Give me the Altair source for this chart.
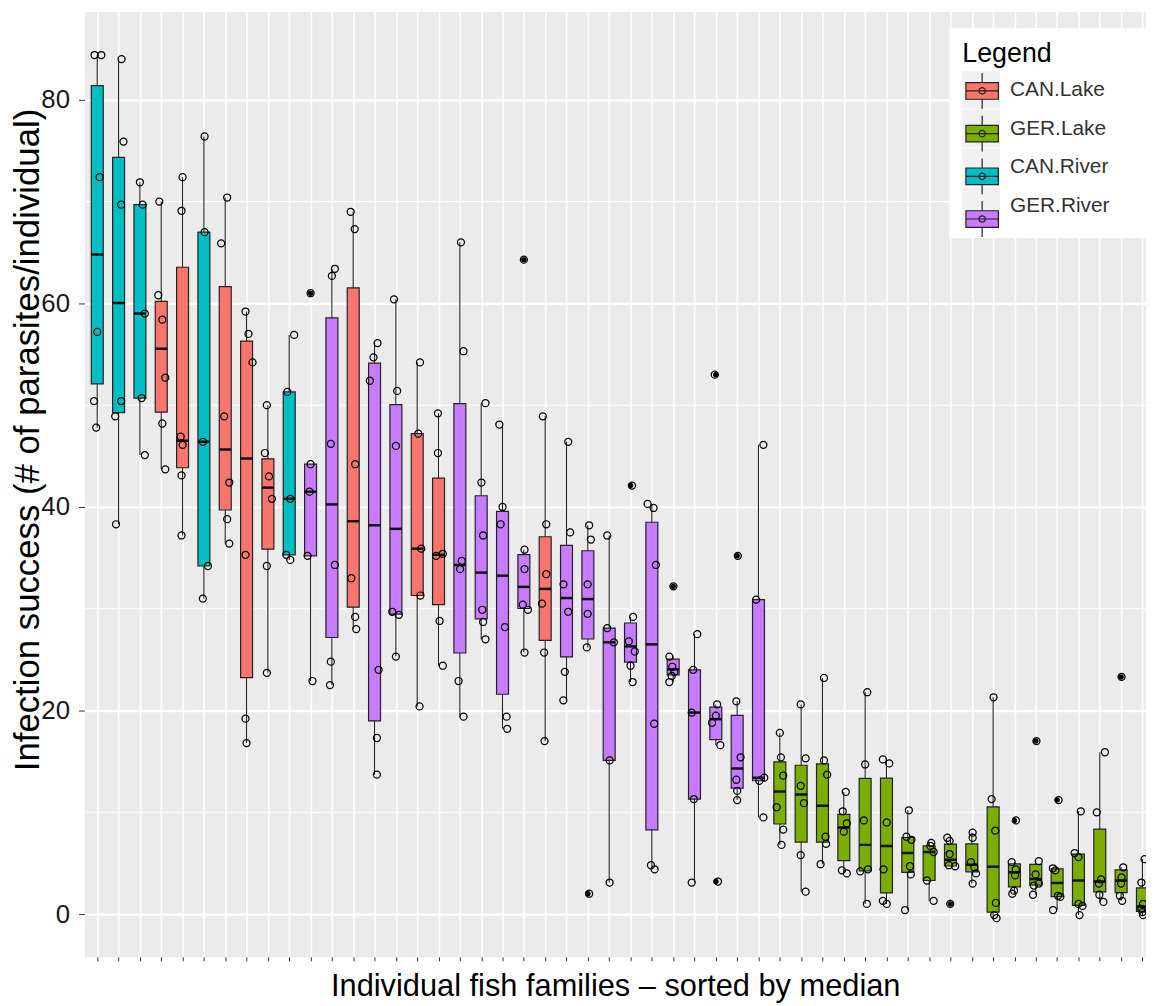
import altair as alt
import numpy as np
import pandas as pd

# ---------------- data ----------------
GROUP_ORDER = ["CAN.Lake", "GER.Lake", "CAN.River", "GER.River"]
GROUP_COLORS = ["#F8766D", "#7CAE00", "#00BFC4", "#C77CFF"]

FAMILY_GROUPS = (
    ["CAN.River", "CAN.River", "CAN.River", "CAN.Lake", "CAN.Lake", "CAN.River",
     "CAN.Lake", "CAN.Lake", "CAN.Lake", "CAN.River", "GER.River", "GER.River",
     "CAN.Lake", "GER.River", "GER.River", "CAN.Lake", "CAN.Lake", "GER.River",
     "GER.River", "GER.River", "GER.River", "CAN.Lake", "GER.River", "GER.River",
     "GER.River", "GER.River", "GER.River", "GER.River", "GER.River", "GER.River",
     "GER.River", "GER.River"]
    + ["GER.Lake"] * 18
)

FAMILY_VALUES = [
    [84.4, 84.4, 72.4, 57.2, 50.4, 47.8],
    [84.0, 75.9, 69.7, 50.4, 48.9, 38.3],
    [71.9, 69.7, 59.0, 50.7, 45.1],
    [70.0, 60.8, 58.4, 52.7, 48.2, 43.7],
    [72.4, 69.1, 46.9, 46.1, 43.1, 37.2],
    [76.4, 67.0, 46.4, 34.2, 31.0],
    [70.4, 65.9, 48.9, 42.4, 38.8, 36.4],
    [59.2, 57.0, 54.2, 35.3, 19.2, 16.8],
    [50.0, 45.3, 43.0, 40.8, 34.2, 23.7],
    [56.9, 51.3, 40.8, 35.3, 34.8],
    [61.0, 44.2, 41.5, 35.2, 22.9],
    [63.4, 62.7, 46.2, 34.3, 24.8, 22.5],
    [69.0, 67.3, 44.2, 33.0, 29.2, 28.0],
    [56.1, 54.7, 52.4, 24.0, 17.3, 13.7],
    [60.4, 51.4, 46.0, 29.7, 29.4, 25.3],
    [54.2, 47.2, 35.9, 31.3, 20.4],
    [49.2, 45.3, 35.4, 35.2, 28.8, 24.4],
    [66.0, 55.3, 34.7, 33.9, 22.9, 19.4],
    [50.2, 42.4, 37.2, 29.9, 28.7, 27.0],
    [48.1, 40.0, 38.3, 28.2, 19.4, 18.2],
    [64.3, 35.8, 33.9, 30.4, 29.9, 25.7],
    [48.9, 38.3, 33.4, 30.5, 25.7, 17.0],
    [46.4, 37.5, 32.4, 29.7, 23.8, 21.0],
    [38.2, 36.8, 32.4, 29.5, 26.2, 2.0],
    [37.2, 28.1, 26.7, 15.1, 3.1],
    [42.1, 29.2, 26.8, 25.8, 24.4, 22.8],
    [40.3, 39.9, 34.3, 18.7, 4.8, 4.4],
    [32.2, 25.3, 24.3, 23.8, 23.4, 22.8],
    [27.5, 24.0, 19.8, 11.3, 3.1],
    [53.0, 20.6, 19.5, 18.8, 16.6, 3.2],
    [35.2, 20.9, 15.4, 13.2, 12.1, 11.2],
    [46.1, 30.9, 13.4, 13.1, 9.5],
    [17.8, 15.4, 13.6, 10.5, 8.3, 6.8],
    [20.6, 15.3, 12.6, 10.9, 5.8, 2.2],
    [23.2, 15.1, 13.7, 7.6, 6.9, 4.9],
    [12.0, 10.1, 8.9, 8.1, 4.3, 4.0],
    [21.8, 14.7, 9.2, 4.4, 4.2, 1.0],
    [15.2, 14.8, 9.0, 4.4, 1.3, 1.0],
    [10.2, 7.6, 7.3, 4.7, 3.9, 0.4],
    [7.0, 6.7, 6.1, 3.3, 1.3],
    [7.5, 7.2, 5.9, 4.8, 4.7, 1.0],
    [8.0, 7.5, 5.1, 4.6, 4.0, 3.0],
    [21.3, 11.3, 8.2, 1.1, -0.1, -0.4],
    [9.2, 5.1, 4.4, 3.8, 2.3, 2.0],
    [17.0, 5.2, 3.9, 3.0, 2.8, 1.9],
    [11.2, 4.5, 4.3, 1.8, 1.7, 0.4],
    [10.1, 6.0, 5.6, 1.0, 0.8, -0.1],
    [15.9, 10.0, 3.4, 3.0, 1.9, 1.2],
    [23.3, 4.6, 3.6, 3.0, 1.8, 1.3],
    [5.4, 3.1, 1.0, 0.5, 0.2, -0.1],
]

# horizontal jitter of each point, in units of one family slot
FAMILY_JITTER = [
    [-0.13, 0.19, 0.11, 0.0, -0.15, -0.05],
    [0.14, 0.23, 0.12, 0.12, -0.16, -0.12],
    [0.0, 0.13, 0.23, 0.08, 0.23],
    [-0.09, -0.14, 0.05, 0.19, 0.05, 0.19],
    [0.0, -0.05, -0.09, 0.0, -0.05, -0.05],
    [0.03, 0.03, -0.05, 0.19, -0.05],
    [0.09, -0.19, -0.05, 0.19, 0.09, 0.19],
    [-0.05, 0.09, 0.28, -0.05, -0.05, 0.0],
    [-0.05, -0.14, 0.05, 0.19, -0.05, -0.05],
    [0.23, -0.09, 0.05, -0.14, 0.05],
    [0.0, 0.0, -0.05, -0.14, 0.09],
    [0.14, 0.0, -0.05, 0.14, -0.05, -0.09],
    [-0.12, 0.07, 0.09, -0.09, 0.09, 0.14],
    [0.14, -0.05, -0.22, 0.19, 0.11, 0.11],
    [-0.09, 0.06, 0.0, -0.17, 0.14, 0.0],
    [0.13, 0.05, 0.19, 0.15, 0.11],
    [-0.03, -0.03, 0.2, -0.11, 0.05, 0.2],
    [0.05, 0.17, 0.09, 0.01, -0.06, 0.17],
    [0.2, 0.01, 0.09, 0.05, 0.09, 0.2],
    [-0.15, 0.0, -0.09, 0.11, 0.19, 0.22],
    [0.0, 0.03, 0.03, -0.05, 0.19, 0.03],
    [-0.11, 0.05, 0.05, -0.15, -0.05, -0.03],
    [0.08, 0.17, -0.14, 0.08, -0.08, -0.15],
    [0.06, 0.14, -0.01, -0.01, -0.05, 0.06],
    [-0.09, -0.09, 0.22, 0.02, 0.02],
    [0.07, 0.12, -0.08, 0.2, 0.0, 0.1],
    [-0.2, 0.08, 0.19, 0.11, -0.04, 0.13],
    [0.01, -0.18, -0.04, 0.06, -0.07, -0.18],
    [0.13, -0.06, -0.13, -0.03, -0.13],
    [-0.05, 0.06, 0.0, -0.18, 0.21, 0.1],
    [0.03, -0.04, 0.16, -0.04, 0.0, 0.0],
    [0.23, -0.11, 0.27, 0.04, 0.23],
    [0.0, 0.05, 0.16, -0.15, 0.16, 0.08],
    [-0.02, 0.21, -0.02, 0.13, -0.02, 0.21],
    [0.07, 0.07, 0.22, 0.14, 0.17, -0.09],
    [0.09, -0.05, 0.14, 0.0, -0.09, 0.14],
    [0.1, 0.0, -0.06, 0.13, -0.23, 0.08],
    [-0.17, 0.13, 0.01, -0.14, -0.17, 0.01],
    [0.05, -0.06, 0.17, 0.1, 0.14, -0.13],
    [0.1, 0.06, 0.21, -0.1, 0.21],
    [-0.15, -0.04, -0.04, -0.07, 0.22, -0.01],
    [0.04, 0.04, -0.04, 0.12, 0.2, 0.04],
    [0.02, -0.07, 0.1, 0.13, 0.05, 0.16],
    [0.07, -0.13, 0.06, 0.03, -0.02, -0.1],
    [0.03, 0.14, -0.01, 0.14, -0.09, -0.13],
    [0.07, -0.2, -0.08, 0.04, 0.15, -0.19],
    [0.11, -0.18, 0.0, 0.0, 0.19, 0.05],
    [0.24, -0.14, 0.06, -0.04, -0.02, 0.17],
    [0.02, 0.1, 0.02, 0.0, -0.06, 0.05],
    [0.1, -0.05, 0.03, -0.05, 0.0, 0.03],
]

Y_MAJOR = [0, 20, 40, 60, 80]
Y_MINOR = [10, 30, 50, 70]
X_TITLE = "Individual fish families \u2013 sorted by median"
Y_TITLE = "Infection success (# of parasites/individual)"

# ---------------- boxplot statistics (Tukey, ggplot style) ----------------
BOX_HALF = 0.28
box_rows, out_rows, pt_rows = [], [], []
for i, (g, vals, jit) in enumerate(zip(FAMILY_GROUPS, FAMILY_VALUES, FAMILY_JITTER), start=1):
    a = np.array(vals, dtype=float)
    q1, med, q3 = np.percentile(a, [25, 50, 75])
    iqr = q3 - q1
    lo_f, hi_f = q1 - 1.5 * iqr, q3 + 1.5 * iqr
    inside = a[(a >= lo_f) & (a <= hi_f)]
    box_rows.append(dict(fam=i, left=i - BOX_HALF, right=i + BOX_HALF, q1=q1, med=med,
                         q3=q3, lo=inside.min(), hi=inside.max(), group=g))
    for v in a[(a < lo_f) | (a > hi_f)]:
        out_rows.append(dict(fam=i, v=float(v)))
    for v, j in zip(vals, jit):
        pt_rows.append(dict(xj=i + j, v=v, group=g))

boxes = pd.DataFrame(box_rows)
outs = pd.DataFrame(out_rows)
pts = pd.DataFrame(pt_rows)
minor = pd.DataFrame({"v": Y_MINOR})

FONT = "Liberation Sans"
N = len(FAMILY_VALUES)
xs = alt.Scale(domain=[0.4, 50.167], nice=False, zero=False)
ys = alt.Scale(domain=[-4.2, 88.68], nice=False, zero=False)

xaxis = alt.Axis(values=list(range(1, N + 1)), labels=False, ticks=True, tickSize=4,
                 tickColor="#333333", tickWidth=1, grid=True, gridColor="white",
                 gridWidth=1.6, domain=False, title=X_TITLE, titleFont=FONT,
                 titleFontSize=31, titleFontWeight="normal", titleColor="black",
                 titleBaseline="alphabetic", titleY=39)
yaxis = alt.Axis(values=Y_MAJOR, grid=True, gridColor="white", gridWidth=2.2, domain=False,
                 tickSize=6, tickColor="#333333", tickWidth=1, labelFont=FONT,
                 labelFontSize=26, labelColor="#1a1a1a", labelPadding=9,
                 title=Y_TITLE, titleFont=FONT, titleFontSize=35, titleFontWeight="normal",
                 titleColor="black", titleBaseline="alphabetic", titleAngle=270,
                 titleX=-46, titleY=431)

LEG_X, LEG_Y = 871, 17
GLYPH = ("M-0.86,-0.44H0.86V0.44H-0.86Z M0,-0.95V-0.44 M0,0.44V0.95 "
         "M-0.86,0H0.86 M0.17,0A0.17,0.17,0,1,1,-0.17,0A0.17,0.17,0,1,1,0.17,0Z")
# grey key square; the trailing move-to only stretches the white legend box to the edge
KEY_BG = "M-1,-1H1V1H-1Z M8.8,0"

common_leg = dict(orient="none", legendX=LEG_X, legendY=LEG_Y,
                  titleFont=FONT, titleFontSize=27, titleFontWeight="normal",
                  titlePadding=3, labelFont=FONT, labelFontSize=21, labelOffset=10,
                  labelLimit=400, rowPadding=1, padding=13, symbolSize=1444)

bg_legend = alt.Legend(title="Legend", fillColor="white", titleColor="black",
                       labelColor="#333333", symbolType=KEY_BG, symbolStrokeWidth=0,
                       **common_leg)
glyph_legend = alt.Legend(title="\u00a0", labelExpr="''", symbolType=GLYPH,
                          symbolStrokeColor="#222222", symbolStrokeWidth=1.2,
                          **common_leg)

minor_layer = alt.Chart(minor).mark_rule(color="white", strokeWidth=1.1, clip=True).encode(
    y=alt.Y("v:Q", scale=ys, axis=yaxis))

legend_bg = alt.Chart(pts).mark_point(filled=True, clip=True).encode(
    x=alt.X("xj:Q", scale=xs, axis=xaxis), y=alt.Y("v:Q", scale=ys, axis=yaxis),
    color=alt.Color("group:N", scale=alt.Scale(domain=GROUP_ORDER,
                    range=["#EBEBEB"] * 4), legend=bg_legend)
).transform_filter("datum.v > 1000")

whisk = alt.Chart(boxes).mark_rule(color="#222222", strokeWidth=1.1, clip=True).encode(
    x=alt.X("fam:Q", scale=xs, axis=xaxis),
    y=alt.Y("lo:Q", scale=ys, axis=yaxis), y2="hi:Q")

box = alt.Chart(boxes).mark_bar(stroke="#222222", strokeWidth=1.2, clip=True).encode(
    x=alt.X("left:Q", scale=xs, axis=xaxis), x2="right:Q",
    y=alt.Y("q1:Q", scale=ys, axis=yaxis), y2="q3:Q",
    fill=alt.Fill("group:N", scale=alt.Scale(domain=GROUP_ORDER, range=GROUP_COLORS),
                  legend=glyph_legend))

median = alt.Chart(boxes).mark_rule(color="#111111", strokeWidth=2.5, clip=True).encode(
    x=alt.X("left:Q", scale=xs, axis=xaxis), x2="right:Q",
    y=alt.Y("med:Q", scale=ys, axis=yaxis))

outl = alt.Chart(outs).mark_circle(color="black", size=30, opacity=1, clip=True).encode(
    x=alt.X("fam:Q", scale=xs, axis=xaxis), y=alt.Y("v:Q", scale=ys, axis=yaxis))

points = alt.Chart(pts).mark_point(shape="circle", filled=False, color="black",
                                   strokeWidth=1.25, size=50, opacity=1, clip=True).encode(
    x=alt.X("xj:Q", scale=xs, axis=xaxis), y=alt.Y("v:Q", scale=ys, axis=yaxis))

chart = alt.layer(minor_layer, legend_bg, whisk, box, median, outl, points).properties(
    width=1069, height=952,
    autosize=alt.AutoSizeParams(type="none"),
    padding={"left": 77, "top": 0, "right": 0, "bottom": 46},
).resolve_scale(color="independent", fill="independent").configure(
    font=FONT
).configure_view(
    fill="#EBEBEB", stroke="transparent"
)

chart.save("out.html", embed_options={"renderer": "svg", "actions": False})
